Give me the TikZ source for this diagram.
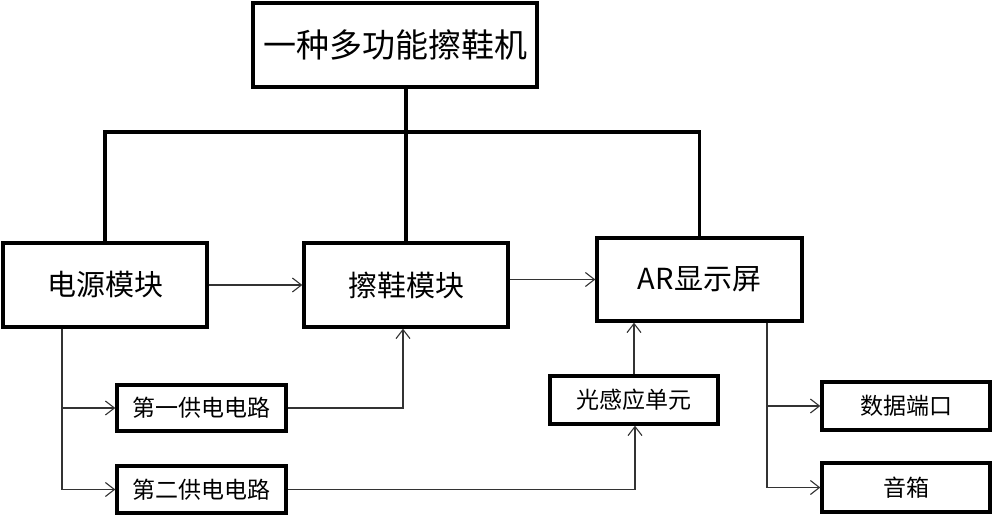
\documentclass[tikz,border=0pt]{standalone}
\usepackage{fontspec}
\setmainfont{Noto Sans CJK SC}
\usetikzlibrary{arrows.meta}
\tikzset{
  x=1pt, y=-1pt,
  box/.style={draw=black, line width=3.4pt, rectangle, inner sep=0pt, anchor=center},
  bigtxt/.style={font=\fontsize{33}{38}\selectfont},
  midtxt/.style={font=\fontsize{29}{34}\selectfont},
  smalltxt/.style={font=\fontsize{23}{28}\selectfont},
  tree/.style={draw=black, line width=3.6pt},
  arr/.style={draw=black!80, line width=1.1pt, -{Straight Barb[length=9pt,width=14pt,line width=1.1pt]}},
  thin/.style={draw=black!80, line width=1.1pt}
}
\begin{document}
\begin{tikzpicture}
\useasboundingbox (0,0) rectangle (1000,522);
\fill[white] (0,0) rectangle (1000,522);

\node[box, bigtxt, minimum width=284pt, minimum height=84pt] (top) at (395,45) {一种多功能擦鞋机};
\node[box, midtxt, minimum width=204pt, minimum height=84pt] (power) at (105,285) {电源模块};
\node[box, midtxt, minimum width=204pt, minimum height=84pt] (shoe) at (406,285) {擦鞋模块};
\node[box, midtxt, minimum width=205pt, minimum height=83pt] (ar) at (699.5,279.5) {AR显示屏};
\node[box, smalltxt, minimum width=169pt, minimum height=46pt] (first) at (201.5,408) {第一供电电路};
\node[box, smalltxt, minimum width=169pt, minimum height=47pt] (second) at (201.5,489.5) {第二供电电路};
\node[box, smalltxt, minimum width=168pt, minimum height=48pt] (light) at (634,400) {光感应单元};
\node[box, smalltxt, minimum width=168pt, minimum height=48pt] (data) at (906,406) {数据端口};
\node[box, smalltxt, minimum width=168pt, minimum height=49pt] (speaker) at (906,487.5) {音箱};

% thick tree
\coordinate (hub) at (406,132);
\draw[tree] (top.south -| shoe.north) -- (shoe.north);
\draw[tree] (power.north) |- (hub) -| (ar.north);

% thin connectors
\draw[arr] (power.east) -- (shoe.west);
\draw[arr] (shoe.east |- ar.west) -- (ar.west);
\coordinate (pdown) at ([xshift=-43pt]power.south);
\draw[arr] (pdown) |- (first.west);
\draw[arr] (pdown) |- (second.west);
\draw[arr] (first.east) -| ([xshift=-3pt]shoe.south);
\draw[arr] (second.east) -| ([xshift=1pt]light.south);
\draw[arr] (light.north) -- (light.north |- ar.south);
\coordinate (ardown) at ([xshift=67.5pt]ar.south);
\draw[arr] (ardown) |- (data.west);
\draw[arr] (ardown) |- (speaker.west);
\end{tikzpicture}
\end{document}
